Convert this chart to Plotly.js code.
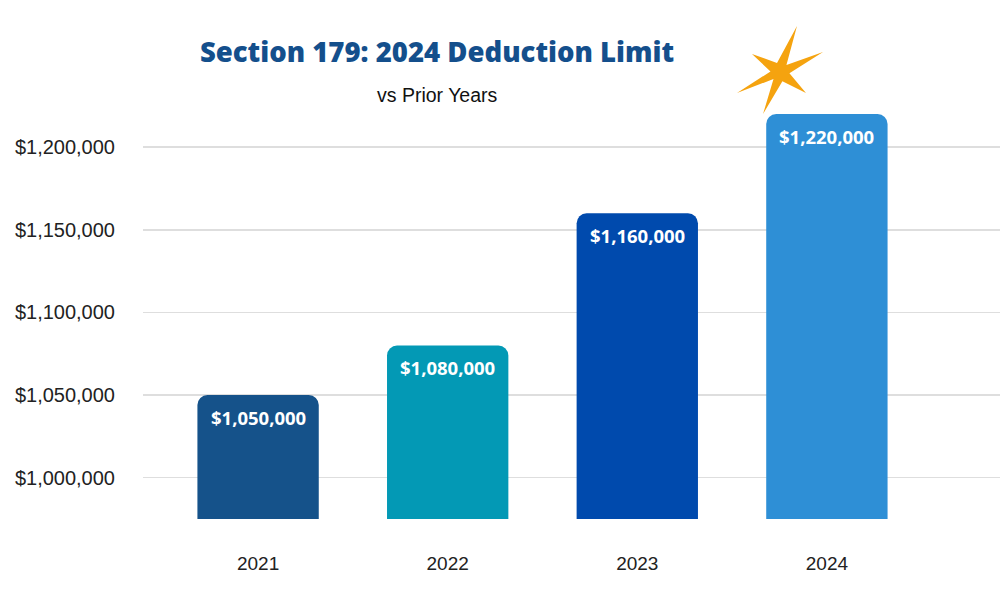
<!DOCTYPE html>
<html>
<head>
<meta charset="utf-8">
<script src="https://cdn.plot.ly/plotly-3.0.1.min.js"></script>
<style>html,body{margin:0;padding:0;background:#fff;}#chart{width:1000px;height:616px;}</style>
</head>
<body>
<div id="chart"></div>
<script>
// ---- data ----
const years = ["2021", "2022", "2023", "2024"];
const limits = [1050000, 1080000, 1160000, 1220000];
const barColors = ["#15528a", "#0399b5", "#004aad", "#2e8fd6"];
const yTickVals = [1000000, 1050000, 1100000, 1150000, 1200000];
const yTickText = ["$1,000,000", "$1,050,000", "$1,100,000", "$1,150,000", "$1,200,000"];
const titleText = "Section 179: 2024 Deduction Limit";
const subtitleText = "vs Prior Years";

// ---- layout geometry ----
const W = 1000, H = 616;
const M = {l: 143, r: 0, t: 100, b: 97};
const plotW = W - M.l - M.r, plotH = H - M.t - M.b;
function px2paperX(px) { return (px - M.l) / plotW; }
function px2paperY(py) { return (H - M.b - py) / plotH; }

const fmt = v => "$" + v.toLocaleString("en-US");

const trace = {
  type: "bar",
  x: years,
  y: limits,
  width: 0.64,
  marker: {color: barColors, cornerradius: 10, line: {width: 0}},
  hoverinfo: "x+y",
  showlegend: false
};

const valueAnnotations = years.map((yr, i) => ({
  x: i, y: limits[i], xref: "x", yref: "y",
  text: "<b>" + fmt(limits[i]) + "</b>", showarrow: false,
  yanchor: "middle", yshift: -22,
  font: {family: "Open Sans, sans-serif", size: 18.5, color: "#ffffff"}
}));

// decorative six-armed sparkle
const starTips = [[797, 26], [823, 52], [806, 93], [763, 114], [737, 93], [752, 54]];
const starC = [780, 72];
function starPath() {
  const pts = [];
  for (let i = 0; i < starTips.length; i++) {
    const a = starTips[i], b = starTips[(i + 1) % starTips.length];
    pts.push(a);
    const va = [a[0] - starC[0], a[1] - starC[1]], vb = [b[0] - starC[0], b[1] - starC[1]];
    const la = Math.hypot(va[0], va[1]), lb = Math.hypot(vb[0], vb[1]);
    let bx = va[0] / la + vb[0] / lb, by = va[1] / la + vb[1] / lb;
    const lbis = Math.hypot(bx, by);
    bx /= lbis; by /= lbis;
    pts.push([starC[0] + bx * 9.5, starC[1] + by * 9.5]);
  }
  return pts.map((p, i) => (i ? "L" : "M") + px2paperX(p[0]).toFixed(4) + "," + px2paperY(p[1]).toFixed(4)).join(" ") + " Z";
}

const yTop = 1000000 + (478 - M.t) / 82.7 * 50000;
const layout = {
  width: W, height: H,
  margin: M,
  paper_bgcolor: "#ffffff", plot_bgcolor: "#ffffff",
  title: {
    text: titleText,
    x: 437 / W, xanchor: "center",
    y: 1 - 52 / H, yanchor: "middle", yref: "container",
    font: {family: "Open Sans, sans-serif", size: 27.5, color: "#144f8c", weight: 800}
  },
  xaxis: {
    type: "category",
    range: [-0.607, 3.913],
    showgrid: false, zeroline: false, showline: false,
    ticks: "", ticklabelstandoff: 31,
    tickfont: {family: "Liberation Sans, Arial, sans-serif", size: 19, color: "#222222"},
    fixedrange: true
  },
  yaxis: {
    range: [975000, yTop],
    tickvals: yTickVals, ticktext: yTickText,
    showgrid: true, gridcolor: "#dedede", gridwidth: 1.5,
    zeroline: false, showline: false, ticks: "",
    ticklabelstandoff: 27,
    tickfont: {family: "Liberation Sans, Arial, sans-serif", size: 20, color: "#222222"},
    fixedrange: true
  },
  annotations: valueAnnotations.concat([{
    xref: "paper", yref: "paper",
    x: px2paperX(437), y: px2paperY(95),
    text: subtitleText, showarrow: false,
    xanchor: "center", yanchor: "middle",
    font: {family: "Liberation Sans, Arial, sans-serif", size: 19.5, color: "#111111"}
  }]),
  shapes: [{
    type: "path", xref: "paper", yref: "paper",
    path: starPath(),
    fillcolor: "#f5a30f", line: {width: 0}, layer: "above"
  }],
  bargap: 0.3
};

Plotly.newPlot("chart", [trace], layout, {displayModeBar: false, staticPlot: true});
</script>
</body>
</html>
